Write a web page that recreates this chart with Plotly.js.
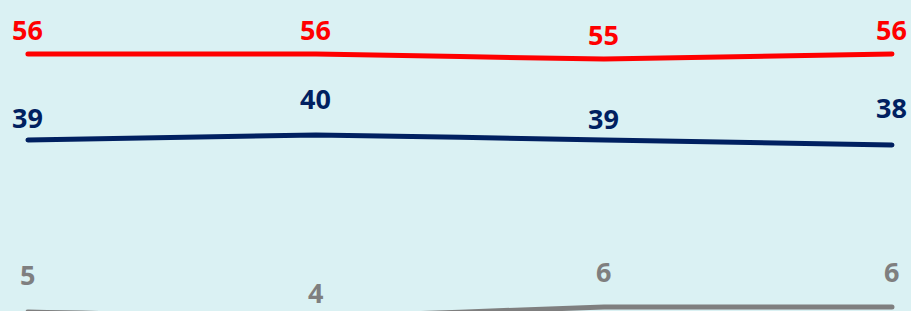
<!DOCTYPE html>
<html>
<head>
<meta charset="utf-8">
<script src="https://cdn.plot.ly/plotly-3.0.1.min.js"></script>
<style>
html,body{margin:0;padding:0;background:#daf1f3;}
#chart{width:911px;height:311px;}
.js-line{stroke-linecap:round;stroke-linejoin:round;}
</style>
</head>
<body>
<div id="chart"></div>
<script>
// Data
const categories = [0, 1, 2, 3];
const seriesRed = [56, 56, 55, 56];
const seriesNavy = [39, 40, 39, 38];
const seriesGray = [5, 4, 6, 6];

// Style
const colors = {red: '#ff0000', navy: '#002060', gray: '#7f7f7f'};
const lift = {red: [4, 4, 4, 4], navy: [2, 16, 1, 17], gray: [17, 4, 15, 15]};
const font = 'Noto Sans, Open Sans, sans-serif';
const yRange = [5.21, 66.67];

const series = [
  {name: 'red', y: seriesRed},
  {name: 'navy', y: seriesNavy},
  {name: 'gray', y: seriesGray}
];

const traces = series.map(s => ({
  x: categories, y: s.y, type: 'scatter', mode: 'lines',
  line: {color: colors[s.name], width: 5, shape: 'spline', smoothing: 0.3},
  hoverinfo: 'skip', cliponaxis: false
}));

const toPaper = v => (v - yRange[0]) / (yRange[1] - yRange[0]);

const annotations = [];
series.forEach(s => {
  s.y.forEach((v, i) => {
    annotations.push({
      x: categories[i], xref: 'x', y: toPaper(v), yref: 'paper',
      text: '<b>' + v + '</b>', showarrow: false,
      xanchor: 'center', yanchor: 'bottom', yshift: lift[s.name][i],
      font: {family: font, size: 27, color: colors[s.name]}
    });
  });
});

const layout = {
  width: 911, height: 311,
  margin: {l: 0, r: 0, t: 0, b: 0},
  paper_bgcolor: '#daf1f3', plot_bgcolor: '#daf1f3',
  showlegend: false,
  xaxis: {range: [-0.097, 3.066], visible: false, fixedrange: true},
  yaxis: {range: yRange, visible: false, fixedrange: true},
  annotations: annotations
};

Plotly.newPlot('chart', traces, layout, {displayModeBar: false, staticPlot: true});
</script>
</body>
</html>
